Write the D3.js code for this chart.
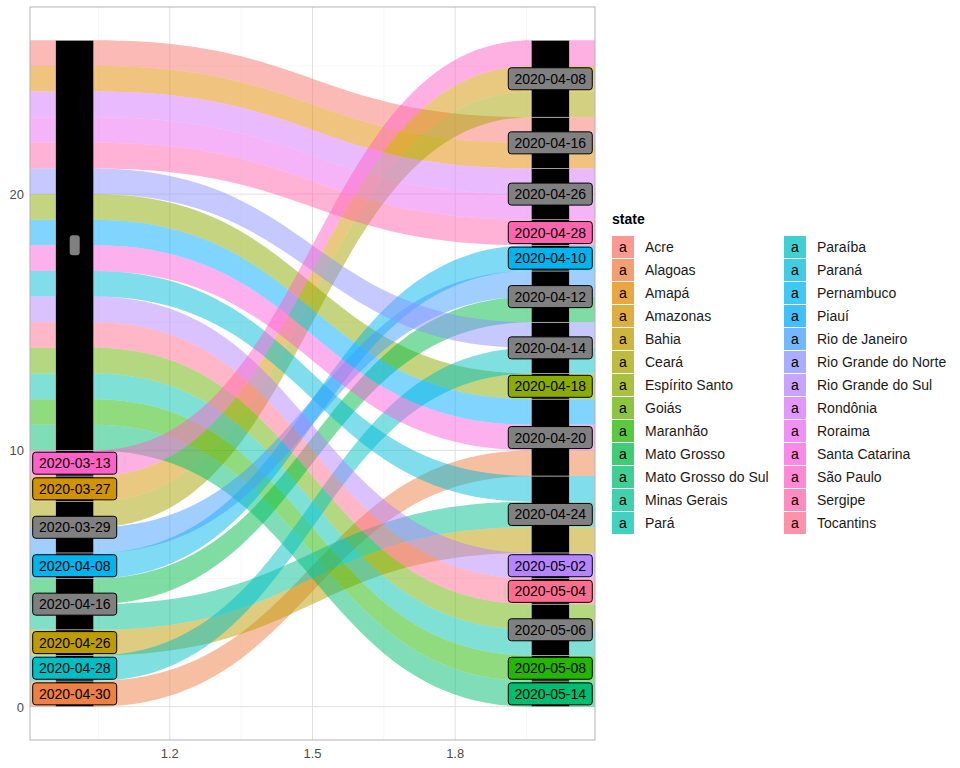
<!DOCTYPE html>
<html lang="en">
<head>
<meta charset="UTF-8">
<title>Alluvial states</title>
<script src="https://d3js.org/d3.v7.min.js"></script>
<style>
  body{ margin:0; background:white; font-family:"Liberation Sans", Arial, sans-serif; }
</style>
</head>
<body>
<svg id="chart" width="960" height="768"></svg>
<script>
// states in legend order
const states = ["Acre","Alagoas","Amapá","Amazonas","Bahia","Ceará","Espírito Santo","Goiás","Maranhão",
  "Mato Grosso","Mato Grosso do Sul","Minas Gerais","Pará","Paraíba","Paraná","Pernambuco","Piauí",
  "Rio de Janeiro","Rio Grande do Norte","Rio Grande do Sul","Rondônia","Roraima","Santa Catarina",
  "São Paulo","Sergipe","Tocantins"];

// first axis: stacking order bottom -> top, with date of each
const leftOrder = ["Alagoas","Paraíba","Bahia","Minas Gerais","Mato Grosso","Pernambuco","Rio de Janeiro",
  "Ceará","Amazonas","São Paulo","Mato Grosso do Sul","Maranhão","Pará","Goiás","Tocantins",
  "Rio Grande do Sul","Paraná","Santa Catarina","Piauí","Espírito Santo","Rio Grande do Norte",
  "Sergipe","Roraima","Rondônia","Amapá","Acre"];
const leftDates = ["2020-04-30","2020-04-28","2020-04-26","2020-04-16","2020-04-16","2020-04-08",
  "2020-03-29","2020-03-29","2020-03-27","2020-03-13",
  "","","","","","","","","","","","","","","",""];

// second axis
const rightOrder = ["Mato Grosso do Sul","Maranhão","Pará","Goiás","Tocantins","Rio Grande do Sul",
  "Bahia","Minas Gerais","Paraná","Alagoas","Santa Catarina","Piauí","Espírito Santo","Paraíba",
  "Rio Grande do Norte","Mato Grosso","Rio de Janeiro","Pernambuco","Sergipe","Roraima","Rondônia",
  "Amapá","Acre","Ceará","Amazonas","São Paulo"];
const rightDates = ["2020-05-14","2020-05-08","2020-05-06","2020-05-06","2020-05-04","2020-05-02",
  "2020-04-24","2020-04-24","2020-04-24","2020-04-20","2020-04-20","2020-04-20","2020-04-18",
  "2020-04-14","2020-04-14","2020-04-12","2020-04-12","2020-04-10","2020-04-28","2020-04-26",
  "2020-04-26","2020-04-16","2020-04-16","2020-04-08","2020-04-08","2020-04-08"];

const xTicks = [1.2, 1.5, 1.8];
const yTicks = [0, 10, 20];

// ggplot-style hue palette (polar Luv, l=65, c=100)
function hclLuv(h, c, l) {
  const r = h * Math.PI / 180, u = c * Math.cos(r), v = c * Math.sin(r);
  const Y = l > 8 ? Math.pow((l + 16) / 116, 3) : l / 903.3;
  const un = 0.19784, vn = 0.46834;
  const up = u / (13 * l) + un, vp = v / (13 * l) + vn;
  const X = Y * 9 * up / (4 * vp), Z = Y * (12 - 3 * up - 20 * vp) / (4 * vp);
  const lin = [3.2404542*X - 1.5371385*Y - 0.4985314*Z,
              -0.9692660*X + 1.8760108*Y + 0.0415560*Z,
               0.0556434*X - 0.2040259*Y + 1.0572252*Z];
  const g = lin.map(t => { t = t <= 0.0031308 ? 12.92 * t : 1.055 * Math.pow(t, 1/2.4) - 0.055;
    return Math.round(Math.max(0, Math.min(1, t)) * 255); });
  return d3.rgb(g[0], g[1], g[2]).formatHex();
}
const n = states.length;
const color = d3.scaleOrdinal().domain(states)
  .range(states.map((s, i) => hclLuv(15 + i * 360 / n, 100, 65)));

const svg = d3.select("#chart");
const P = {l: 30, r: 595, t: 7, b: 740};
const x = d3.scaleLinear().domain([0.906, 2.094]).range([P.l, P.r]);
const y = d3.scaleLinear().domain([-1.3, 27.3]).range([P.b, P.t]);

// grid
const g = svg.append("g");
[5, 15, 25].forEach(v => g.append("line").attr("x1", P.l).attr("x2", P.r).attr("y1", y(v)).attr("y2", y(v))
  .attr("stroke", "#f2f2f2").attr("stroke-width", 0.6));
[1.05, 1.35, 1.65, 1.95].forEach(v => g.append("line").attr("y1", P.t).attr("y2", P.b).attr("x1", x(v)).attr("x2", x(v))
  .attr("stroke", "#f2f2f2").attr("stroke-width", 0.6));
yTicks.forEach(v => g.append("line").attr("x1", P.l).attr("x2", P.r).attr("y1", y(v)).attr("y2", y(v))
  .attr("stroke", "#e0e0e0").attr("stroke-width", 1));
xTicks.forEach(v => g.append("line").attr("y1", P.t).attr("y2", P.b).attr("x1", x(v)).attr("x2", x(v))
  .attr("stroke", "#e0e0e0").attr("stroke-width", 1));

// flows
const w = 0.04;
const pos = s => ({ a: leftOrder.indexOf(s), b: rightOrder.indexOf(s) });
const flows = svg.append("g");
states.forEach(s => {
  const p = pos(s);
  const x0 = x.domain()[0], x1 = 1 + w, x2 = 2 - w, x3 = x.domain()[1], xm = 1.5;
  const pth = d3.path();
  pth.moveTo(x(x0), y(p.a + 1));
  pth.lineTo(x(x1), y(p.a + 1));
  pth.bezierCurveTo(x(xm), y(p.a + 1), x(xm), y(p.b + 1), x(x2), y(p.b + 1));
  pth.lineTo(x(x3), y(p.b + 1));
  pth.lineTo(x(x3), y(p.b));
  pth.lineTo(x(x2), y(p.b));
  pth.bezierCurveTo(x(xm), y(p.b), x(xm), y(p.a), x(x1), y(p.a));
  pth.lineTo(x(x0), y(p.a));
  pth.closePath();
  flows.append("path").attr("d", pth.toString()).attr("fill", color(s)).attr("fill-opacity", 0.5);
});

// strata
function strata(order, dates) {
  const out = [];
  order.forEach((s, i) => {
    const last = out[out.length - 1];
    if (last && last.date === dates[i]) { last.top = i + 1; last.members.push(s); }
    else out.push({date: dates[i], bottom: i, top: i + 1, members: [s]});
  });
  return out;
}
function drawAxis(cx, order, dates) {
  const st = strata(order, dates);
  const gs = svg.append("g");
  gs.selectAll("rect").data(st).join("rect")
    .attr("x", x(cx - w)).attr("width", x(cx + w) - x(cx - w))
    .attr("y", d => y(d.top)).attr("height", d => y(d.bottom) - y(d.top))
    .attr("fill", "black").attr("stroke", "#cccccc").attr("stroke-width", 0.6);
  st.forEach(d => {
    const cy = y((d.bottom + d.top) / 2);
    const fill = d.members.length === 1 ? color(d.members[0]) : "#808080";
    if (d.date === "") {
      gs.append("rect").attr("x", x(cx) - 5).attr("y", cy - 10).attr("width", 10).attr("height", 20)
        .attr("rx", 3).attr("fill", "#808080");
      return;
    }
    gs.append("rect").attr("x", x(cx) - 42).attr("y", cy - 11).attr("width", 84).attr("height", 22)
      .attr("rx", 3).attr("fill", fill).attr("stroke", "black").attr("stroke-width", 1);
    gs.append("text").attr("x", x(cx)).attr("y", cy + 5).attr("text-anchor", "middle")
      .attr("font-size", 14).attr("fill", "black").text(d.date);
  });
}
drawAxis(1, leftOrder, leftDates);
drawAxis(2, rightOrder, rightDates);

// panel border
svg.append("rect").attr("x", P.l).attr("y", P.t).attr("width", P.r - P.l).attr("height", P.b - P.t)
  .attr("fill", "none").attr("stroke", "#b3b3b3").attr("stroke-width", 1);

// axes labels
yTicks.forEach(v => svg.append("text").attr("x", P.l - 6).attr("y", y(v) + 5).attr("text-anchor", "end")
  .attr("font-size", 13).attr("fill", "#4d4d4d").text(v));
xTicks.forEach(v => svg.append("text").attr("x", x(v)).attr("y", P.b + 18).attr("text-anchor", "middle")
  .attr("font-size", 13).attr("fill", "#4d4d4d").text(v));

// legend
const lg = svg.append("g");
lg.append("text").attr("x", 612).attr("y", 224).attr("font-size", 14).attr("font-weight", "bold").text("state");
states.forEach((s, i) => {
  const col = Math.floor(i / 13), row = i % 13;
  const lx = 612 + col * 172, ly = 236 + row * 23;
  lg.append("rect").attr("x", lx).attr("y", ly).attr("width", 22).attr("height", 22)
    .attr("fill", color(s)).attr("fill-opacity", 0.75);
  lg.append("text").attr("x", lx + 11).attr("y", ly + 16).attr("text-anchor", "middle")
    .attr("font-size", 14).text("a");
  lg.append("text").attr("x", lx + 33).attr("y", ly + 16).attr("font-size", 14).attr("fill", "#1a1a1a").text(s);
});
</script>
</body>
</html>
